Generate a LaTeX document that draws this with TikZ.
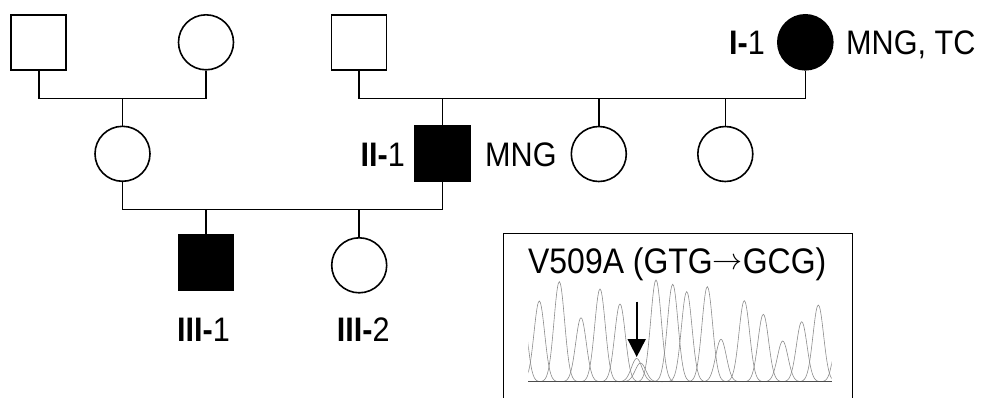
\documentclass[tikz,border=0pt]{standalone}
\usepackage{graphicx}
\usepackage{fontspec}
\setmainfont{Liberation Sans}
\newfontfamily\labfont[FakeStretch=0.9]{Liberation Sans}
\usetikzlibrary{arrows.meta}
\begin{document}
\begin{tikzpicture}[x=1pt,y=-1pt,
  ind/.style={draw=black,line width=1.6pt,minimum size=55pt,inner sep=0pt},
  male/.style={ind,rectangle},
  female/.style={ind,circle},
  aff/.style={fill=black},
  rel/.style={line width=1.6pt},
  lab/.style={font=\labfont\fontsize{34}{40}\selectfont,inner sep=0pt},
  peak/.style={draw=black!45,line width=0.6pt},
]
\useasboundingbox (0,0) rectangle (982,397);
% generation I
\node[male] (A) at (38.7,42.3) {};
\node[female] (B) at (206,42.3) {};
\node[male] (C) at (359,42.3) {};
\node[female,aff] (I1) at (805.3,42.3) {};
% generation II
\node[female] (D) at (122.5,153.8) {};
\node[male,aff] (II1) at (442.5,153.3) {};
\node[female] (E) at (598.8,154) {};
\node[female] (F) at (725.3,154) {};
% generation III
\node[male,aff] (III1) at (205.8,262.7) {};
\node[female] (III2) at (359.2,265.3) {};
% mating / sibship coordinates
\coordinate (m1) at (122.5,98.3);
\coordinate (m2) at (442.5,98.3);
\coordinate (m3) at (205.8,209.4);
\draw[rel] (A.south) |- (m1) -| (B.south);
\draw[rel] (m1) -- (D.north);
\draw[rel] (C.south) |- (m2) -| (I1.south);
\draw[rel] (m2) -- (II1.north);
\draw[rel] (E.north) -- (E.north |- m2);
\draw[rel] (F.north) -- (F.north |- m2);
\draw[rel] (D.south) |- (m3) -| (II1.south);
\draw[rel] (m3) -- (III1.north);
\draw[rel] (III2.north) -- (III2.north |- m3);
% labels
\node[lab,anchor=base east] (tI1) at (765,54.3) {\textbf{I-}1};
\node[lab,anchor=base west] (tI1b) at (846,54.3) {MNG, TC};
\node[lab,anchor=base east] (tII1) at (405,166.5) {\textbf{II-}1};
\node[lab,anchor=base west] (tII1b) at (485,166.5) {MNG};
\node[lab,anchor=base] (tIII1) at (203.5,341) {\textbf{III-}1};
\node[lab,anchor=base] (tIII2) at (363.3,341) {\textbf{III-}2};
% inset
\coordinate (bl) at (503.3,410);
\coordinate (tr) at (852.3,233.3);
\draw[line width=1.3pt] (bl) |- (tr) -- (tr |- bl);
\node[lab,font=\labfont\fontsize{35.5}{40}\selectfont,anchor=base] (tit) at (677.2,273.5) {V509A (GTG\raisebox{4pt}{\resizebox{30pt}{!}{$\rightarrow$}}GCG)};
\begin{scope}
\clip (528.3,240) rectangle (831.7,390);
\foreach \c/\t in {521/288,539.3/301,559.3/281.7,581/317.7,600/289,620/304,636.7/358.5,640.5/363,656/280,672.7/284.3,686.7/291.7,707.3/286.7,721/339.3,744.3/300.7,763.3/314.3,782.7/341,801.7/321.7,818.3/305,840/318}{
  \pgfmathsetmacro\da{\c-22}
  \pgfmathsetmacro\db{\c+22}
  \pgfmathsetmacro\hh{381.7-\t}
  \draw[peak] plot[domain=\da:\db,samples=45,smooth] (\x,{381.7-\hh*exp(-((\x-\c)/7.5)^2)});
}
\end{scope}
\coordinate (b1) at (528.3,381.7);
\coordinate (b2) at (831.7,381.7);
\draw[black!70,line width=1.2pt] (b1) -- (b2);
\coordinate (a1) at (636.7,301.7);
\coordinate (a2) at (636.7,357);
\draw[line width=1.8pt,-{Triangle[width=18pt,length=18pt]}] (a1) -- (a2);
\end{tikzpicture}
\end{document}
